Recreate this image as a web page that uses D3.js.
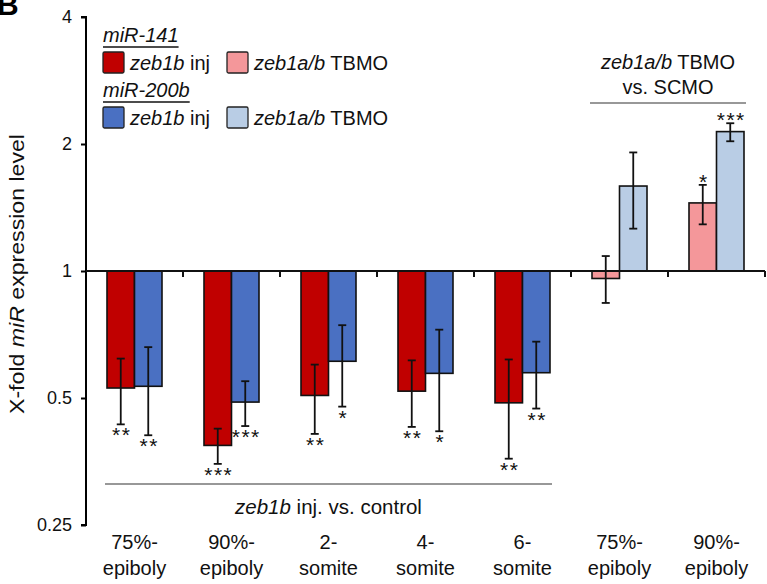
<!DOCTYPE html>
<html>
<head>
<meta charset="utf-8">
<script src="https://cdn.jsdelivr.net/npm/d3@7"></script>
<style>
  body { margin: 0; background: #fff; }
  svg { font-family: "Liberation Sans", Arial, sans-serif; }
</style>
</head>
<body>
<div class="canvas"></div>
<script>
// stage labels (two lines each)
const stageTop = ['75%-', '90%-', '2-', '4-', '6-', '75%-', '90%-']
const stageBottom = ['epiboly', 'epiboly', 'somite', 'somite', 'somite', 'epiboly', 'epiboly']

// miR-141 fold change + error bar ends
const mir141 = [0.528, 0.386, 0.507, 0.519, 0.487, 0.96, 1.45]
const mir141Lo = [0.433, 0.349, 0.411, 0.427, 0.359, 0.84, 1.29]
const mir141Hi = [0.62, 0.423, 0.60, 0.614, 0.617, 1.085, 1.60]
const sig141 = ['**', '***', '**', '**', '**', '', '*']

// miR-200b fold change + error bar ends
const mir200b = [0.533, 0.489, 0.611, 0.572, 0.574, 1.59, 2.14]
const mir200bLo = [0.408, 0.429, 0.477, 0.417, 0.472, 1.26, 2.03]
const mir200bHi = [0.66, 0.548, 0.744, 0.726, 0.68, 1.91, 2.24]
const sig200b = ['**', '***', '*', '*', '**', '', '***']

const yTicks = [0.25, 0.5, 1, 2, 4]

// first 5 stages are zeb1b inj, last 2 are TBMO
const isTbmo = [false, false, false, false, false, true, true]

const colours = {
    141: { inj: '#c00000', tbmo: '#f4979a' },
    '200b': { inj: '#4a70c2', tbmo: '#b9cde5' }
}

const dims = { width: 767, height: 584 }
const plot = { left: 86, right: 765, top: 17, bottom: 525 }

const svg = d3.select('.canvas')
    .append('svg')
    .attr('width', dims.width)
    .attr('height', dims.height)

const y = d3.scaleLog().base(2)
    .domain([0.25, 4])
    .range([plot.bottom, plot.top])

const x = d3.scaleBand()
    .domain(d3.range(stageTop.length))
    .range([plot.left, plot.right])

const barW = 27.5
const xSub = d3.scaleBand()
    .domain(['141', '200b'])
    .range([x.bandwidth() / 2 - barW, x.bandwidth() / 2 + barW])

// build rows from the arrays
const rows = []
stageTop.forEach((s, i) => {
    rows.push({ i, key: '141', v: mir141[i], lo: mir141Lo[i], hi: mir141Hi[i], sig: sig141[i] })
    rows.push({ i, key: '200b', v: mir200b[i], lo: mir200bLo[i], hi: mir200bHi[i], sig: sig200b[i] })
})

// panel letter (cut at the top like the source figure)
svg.append('text')
    .attr('x', -3).attr('y', 15)
    .attr('font-size', 30).attr('font-weight', 'bold')
    .text('B')

// y axis
const yAxis = d3.axisLeft(y)
    .tickValues(yTicks)
    .tickFormat(d3.format('~g'))
    .tickSize(5)
    .tickPadding(9)

const yg = svg.append('g')
    .attr('transform', `translate(${plot.left},0)`)
    .call(yAxis)
yg.select('.domain').attr('stroke-width', 2).attr('d', `M-5,${plot.top}H0V${plot.bottom}H-5`)
yg.selectAll('.tick line').attr('stroke-width', 2)
yg.selectAll('.tick text').attr('font-size', 18).attr('fill', '#111').attr('font-family', null)

// y label
svg.append('text')
    .attr('transform', `translate(24, 274) rotate(-90)`)
    .attr('text-anchor', 'middle')
    .attr('font-size', 20)
    .attr('textLength', 280)
    .attr('lengthAdjust', 'spacingAndGlyphs')
    .attr('fill', '#111')
    .call(t => {
        t.append('tspan').text('X-fold ')
        t.append('tspan').attr('font-style', 'italic').text('miR')
        t.append('tspan').text(' expression level')
    })

// bars
const bars = svg.append('g')
bars.selectAll('rect')
    .data(rows)
    .enter()
    .append('rect')
        .attr('x', d => x(d.i) + xSub(d.key))
        .attr('width', xSub.bandwidth())
        .attr('y', d => Math.min(y(d.v), y(1)))
        .attr('height', d => Math.abs(y(d.v) - y(1)))
        .attr('fill', d => colours[d.key][isTbmo[d.i] ? 'tbmo' : 'inj'])
        .attr('stroke', '#111')
        .attr('stroke-width', 1.6)

// baseline at 1 with category ticks
const base = svg.append('g').attr('transform', `translate(0,${y(1)})`)
base.append('line')
    .attr('x1', plot.left).attr('x2', plot.right)
    .attr('stroke', '#111').attr('stroke-width', 2)
base.selectAll('.ctick')
    .data(d3.range(1, stageTop.length + 1))
    .enter()
    .append('line')
        .attr('x1', d => plot.left + d * x.step())
        .attr('x2', d => plot.left + d * x.step())
        .attr('y1', 0).attr('y2', 6)
        .attr('stroke', '#111').attr('stroke-width', 2)

// error bars
const err = svg.append('g').attr('stroke', '#111').attr('stroke-width', 1.8)
const cx = d => x(d.i) + xSub(d.key) + xSub.bandwidth() / 2
err.selectAll('.stem').data(rows).enter().append('line')
    .attr('x1', cx).attr('x2', cx)
    .attr('y1', d => y(d.hi)).attr('y2', d => y(d.lo))
err.selectAll('.capHi').data(rows).enter().append('line')
    .attr('x1', d => cx(d) - 4).attr('x2', d => cx(d) + 4)
    .attr('y1', d => y(d.hi)).attr('y2', d => y(d.hi))
err.selectAll('.capLo').data(rows).enter().append('line')
    .attr('x1', d => cx(d) - 4).attr('x2', d => cx(d) + 4)
    .attr('y1', d => y(d.lo)).attr('y2', d => y(d.lo))

// significance stars
svg.append('g').selectAll('text')
    .data(rows.filter(d => d.sig))
    .enter()
    .append('text')
        .attr('x', d => cx(d) + 1)
        .attr('y', d => d.v < 1 ? y(d.lo) + 18 : y(d.hi) + 4)
        .attr('text-anchor', 'middle')
        .attr('font-size', 21)
        .attr('letter-spacing', 1.5)
        .attr('fill', '#111')
        .text(d => d.sig)

// x labels
const xl = svg.append('g')
xl.selectAll('.top').data(stageTop).enter().append('text')
    .attr('x', (d, i) => x(i) + x.bandwidth() / 2)
    .attr('y', 549)
    .attr('text-anchor', 'middle').attr('font-size', 20).attr('fill', '#111')
    .text(d => d)
xl.selectAll('.bot').data(stageBottom).enter().append('text')
    .attr('x', (d, i) => x(i) + x.bandwidth() / 2)
    .attr('y', 575)
    .attr('text-anchor', 'middle').attr('font-size', 20).attr('fill', '#111')
    .text(d => d)

// group annotations
const lo0 = x(0) + 19, lo1 = x(4) + x.bandwidth() - 19
svg.append('line')
    .attr('x1', lo0).attr('x2', lo1)
    .attr('y1', 484).attr('y2', 484)
    .attr('stroke', '#333').attr('stroke-width', 1.2)
svg.append('text')
    .attr('x', (lo0 + lo1) / 2).attr('y', 514)
    .attr('text-anchor', 'middle').attr('font-size', 20.5).attr('fill', '#111')
    .call(t => {
        t.append('tspan').attr('font-style', 'italic').text('zeb1b')
        t.append('tspan').text(' inj. vs. control')
    })

const hi0 = x(5) + 19, hi1 = x(6) + x.bandwidth() - 19
svg.append('line')
    .attr('x1', hi0).attr('x2', hi1)
    .attr('y1', 103).attr('y2', 103)
    .attr('stroke', '#333').attr('stroke-width', 1.2)
const topNote = svg.append('text')
    .attr('text-anchor', 'middle').attr('font-size', 20).attr('fill', '#111')
topNote.append('tspan')
    .attr('x', (hi0 + hi1) / 2).attr('y', 69)
    .attr('font-style', 'italic').text('zeb1a/b')
topNote.append('tspan').text(' TBMO')
topNote.append('tspan')
    .attr('x', (hi0 + hi1) / 2).attr('y', 94)
    .text('vs. SCMO')

// legend
const legend = svg.append('g').attr('font-size', 20).attr('fill', '#111')
const legendRows = [
    { head: 'miR-141', key: '141', headY: 42, rowY: 52 },
    { head: 'miR-200b', key: '200b', headY: 97, rowY: 107 }
]
legendRows.forEach(r => {
    const h = legend.append('text')
        .attr('x', 103).attr('y', r.headY)
        .attr('font-style', 'italic')
        .text(r.head)
    const w = h.node().getComputedTextLength()
    legend.append('line')
        .attr('x1', 103).attr('x2', 103 + w)
        .attr('y1', r.headY + 5).attr('y2', r.headY + 5)
        .attr('stroke', '#111').attr('stroke-width', 1.3)

    const items = [
        { x: 103, fill: colours[r.key].inj, ital: 'zeb1b', rest: ' inj' },
        { x: 227, fill: colours[r.key].tbmo, ital: 'zeb1a/b', rest: ' TBMO' }
    ]
    items.forEach(it => {
        legend.append('rect')
            .attr('x', it.x).attr('y', r.rowY)
            .attr('width', 21).attr('height', 21)
            .attr('rx', 1.5)
            .attr('fill', it.fill)
            .attr('stroke', '#222').attr('stroke-width', 1.3)
        const t = legend.append('text')
            .attr('x', it.x + 27).attr('y', r.rowY + 18)
        t.append('tspan').attr('font-style', 'italic').text(it.ital)
        t.append('tspan').text(it.rest)
    })
})
</script>
</body>
</html>
